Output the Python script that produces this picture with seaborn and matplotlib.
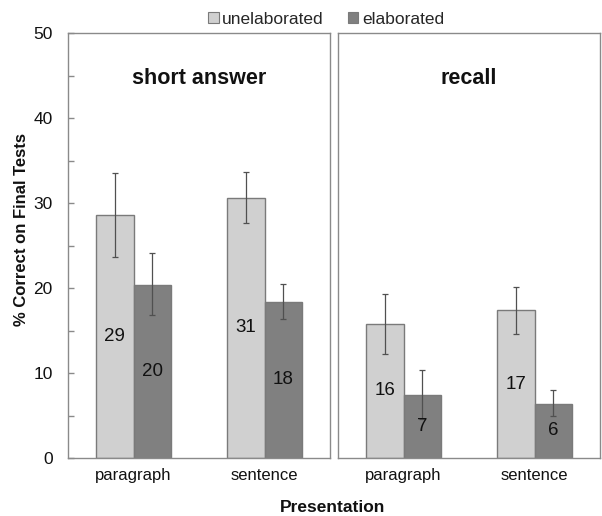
import matplotlib
matplotlib.use("Agg")
import matplotlib.pyplot as plt
from matplotlib.patches import Patch
from matplotlib.ticker import MultipleLocator
import seaborn as sns
import pandas as pd

# Final test performance by test type, presentation format and elaboration
panels = ["short answer", "recall"]
presentation = ["paragraph", "sentence"]
conditions = ["unelaborated", "elaborated"]

short_unelab = [28.6, 30.6]
short_elab = [20.4, 18.4]
recall_unelab = [15.8, 17.4]
recall_elab = [7.4, 6.4]

# error bar limits (lower, upper)
short_unelab_lo = [23.6, 27.6]
short_unelab_hi = [33.5, 33.6]
short_elab_lo = [16.8, 16.4]
short_elab_hi = [24.1, 20.5]
recall_unelab_lo = [12.2, 14.6]
recall_unelab_hi = [19.3, 20.1]
recall_elab_lo = [4.6, 4.9]
recall_elab_hi = [10.3, 8.0]

colors = {"unelaborated": "#d0d0d0", "elaborated": "#808080"}
edge = "#7a7a7a"
spine_col = "#8a8a8a"
ink = "#111111"

sns.set_theme(style="white")
plt.rcParams["font.family"] = ["Liberation Sans", "DejaVu Sans"]

W, H = 602, 516
fig = plt.figure(figsize=(W / 100, H / 100), dpi=100)

panel_data = {
    "short answer": (short_unelab, short_elab,
                     (short_unelab_lo, short_unelab_hi), (short_elab_lo, short_elab_hi)),
    "recall": (recall_unelab, recall_elab,
               (recall_unelab_lo, recall_unelab_hi), (recall_elab_lo, recall_elab_hi)),
}

lefts = [68, 338]
bottom_px, top_px = 458, 33
pw = 262

for k, name in enumerate(panels):
    unel, el, unel_err, el_err = panel_data[name]
    df = pd.DataFrame({
        "presentation": presentation * 2,
        "condition": [conditions[0]] * 2 + [conditions[1]] * 2,
        "value": unel + el,
        "lo": unel_err[0] + el_err[0],
        "hi": unel_err[1] + el_err[1],
    })
    ax = fig.add_axes([lefts[k] / W, (H - bottom_px) / H, pw / W, (bottom_px - top_px) / H])
    sns.barplot(data=df, x="presentation", y="value", hue="condition",
                order=presentation, hue_order=conditions, palette=colors,
                width=0.573, errorbar=None, edgecolor=edge, linewidth=1,
                legend=False, ax=ax, saturation=1)

    # error bars and value labels at each bar's centre
    bars = ax.patches
    for i, row in df.iterrows():
        p = bars[i]
        cx = p.get_x() + p.get_width() / 2
        v = row["value"]
        ax.errorbar(cx, v, yerr=[[v - row["lo"]], [row["hi"] - v]],
                    fmt="none", ecolor="#505050", elinewidth=0.9,
                    capsize=2.2, capthick=0.9, zorder=5)
        ax.text(cx, v / 2, f"{v:.0f}", ha="center", va="center",
                fontsize=13.5, color=ink, zorder=6)

    ax.set_xlim(-0.5, 1.5)
    ax.set_ylim(0, 50)
    ax.set_xlabel("")
    ax.set_ylabel("")
    ax.text(0.5, 0.894, name, transform=ax.transAxes, ha="center", va="center",
            fontsize=15.5, fontweight="bold", color=ink)
    for s in ax.spines.values():
        s.set_visible(True)
        s.set_color(spine_col)
        s.set_linewidth(1)
    ax.tick_params(axis="x", length=0, pad=7, labelsize=12, labelcolor=ink)
    if k == 0:
        ax.yaxis.set_major_locator(MultipleLocator(10))
        ax.yaxis.set_minor_locator(MultipleLocator(5))
        ax.tick_params(axis="y", which="both", direction="in", length=4,
                       color=spine_col, width=1, left=True, pad=11,
                       labelsize=12.5, labelcolor=ink)
    else:
        ax.set_yticks([])

fig.text(22 / W, 1 - 229 / H, "% Correct on Final Tests", rotation=90,
         ha="center", va="center", fontsize=12, fontweight="bold", color=ink)
fig.text(333 / W, 1 - 508 / H, "Presentation", ha="center", va="center",
         fontsize=12.5, fontweight="bold", color=ink)

handles = [Patch(facecolor=colors[c], edgecolor=edge, linewidth=0.8, label=c)
           for c in conditions]
fig.legend(handles=handles, loc="center", bbox_to_anchor=(326 / W, 1 - 19 / H),
           ncol=2, frameon=False, fontsize=12.5, handlelength=0.6, handleheight=0.6,
           handletextpad=0.2, columnspacing=1.4, borderaxespad=0, borderpad=0)

fig.savefig("out.png", dpi=100)
